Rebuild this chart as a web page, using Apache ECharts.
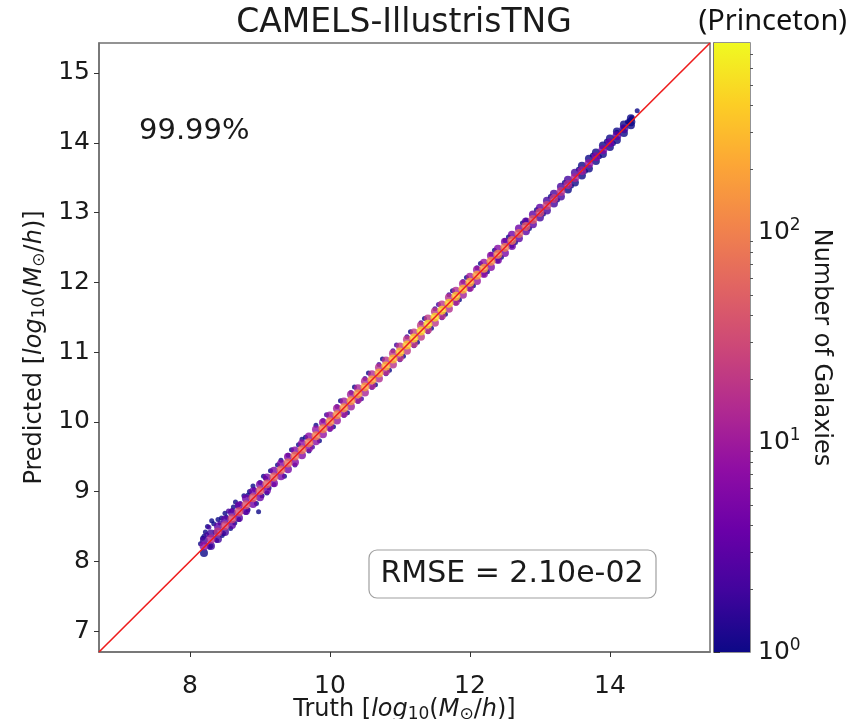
<!DOCTYPE html>
<html><head><meta charset="utf-8">
<script src="https://cdn.jsdelivr.net/npm/echarts@6/dist/echarts.min.js"></script>
<style>html,body{margin:0;padding:0;background:#fff}#c{width:850px;height:719px}</style>
</head><body><div id="c"></div>
<script>
// ---- axis / tick data ----
const axisRange = [6.7, 15.43];
const xTicks = [8, 10, 12, 14];
const yTicks = [7, 8, 9, 10, 11, 12, 13, 14, 15];
const cbarMaxLog = 2.9;            // colorbar top ~ 10^2.9
const cbarMajor = [0, 1, 2];       // 10^0, 10^1, 10^2
const cbarMinorMult = [2, 3, 4, 5, 6, 7, 8, 9];

// ---- data: core of the band (truth, predicted, count) ----
const truthGrid = [8.2,8.3,8.4,8.5,8.6,8.7,8.8,8.9,9.0,9.1,9.2,9.3,9.4,9.5,9.6,9.7,9.8,9.9,10.0,10.1,10.2,10.3,10.4,10.5,10.6,10.7,10.8,10.9,11.0,11.1,11.2,11.3,11.4,11.5,11.6,11.7,11.8,11.9,12.0,12.1,12.2,12.3,12.4,12.5,12.6,12.7,12.8,12.9,13.0,13.1,13.2,13.3,13.4,13.5,13.6,13.7,13.8,13.9,14.0,14.1,14.2,14.3];
const corePred = [8.22,8.32,8.42,8.51,8.61,8.71,8.81,8.91,9.01,9.11,9.21,9.31,9.41,9.51,9.6,9.7,9.8,9.9,10.0,10.1,10.2,10.3,10.4,10.5,10.6,10.7,10.8,10.9,11.0,11.1,11.2,11.3,11.4,11.5,11.6,11.7,11.8,11.9,12.0,12.1,12.2,12.3,12.4,12.5,12.6,12.7,12.8,12.9,13.0,13.1,13.2,13.3,13.4,13.5,13.6,13.7,13.8,13.9,14.0,14.1,14.2,14.3];
const coreCount = [8,14,20,26,30,34,38,42,46,50,55,60,66,72,80,88,95,105,115,125,140,150,165,180,200,220,250,280,320,360,400,440,470,450,420,380,330,280,230,190,160,130,110,90,75,60,48,40,33,27,22,18,15,12,10,8,6,5,4,3,2,1];

// ---- band edges just above / below the line ----
const midUpperPred = [8.3,8.4,8.5,8.6,8.7,8.8,8.9,9.0,9.1,9.2,9.3,9.4,9.5,9.59,9.69,9.79,9.89,9.99,10.09,10.19,10.29,10.39,10.48,10.58,10.68,10.78,10.88,10.98,11.08,11.18,11.28,11.38,11.48,11.58,11.68,11.78,11.88,11.98,12.08,12.18,12.28,12.38,12.48,12.58,12.68,12.77,12.87,12.97,13.07,13.17,13.27,13.37,13.47,13.57,13.67,13.77,13.86,13.96,14.06,14.16,14.26,14.35];
const midUpperCount = [2,2,3,3,3,4,4,4,5,5,5,6,6,6,7,7,8,8,9,10,10,11,12,13,14,16,17,18,19,20,21,21,20,19,18,16,14,12,11,9,8,7,6,5,4,4,3,3,3,2,2,2,2,2,1,1,1,1,1,1,1,1];
const midLowerPred = [8.12,8.22,8.32,8.42,8.52,8.62,8.72,8.82,8.92,9.02,9.12,9.22,9.32,9.42,9.52,9.62,9.72,9.82,9.92,10.02,10.12,10.22,10.32,10.42,10.52,10.62,10.72,10.82,10.92,11.02,11.12,11.22,11.32,11.42,11.52,11.62,11.72,11.82,11.92,12.02,12.12,12.22,12.32,12.42,12.52,12.63,12.73,12.83,12.93,13.03,13.13,13.23,13.33,13.43,13.53,13.63,13.74,13.84,13.94,14.04,14.14,14.25];
const midLowerCount = [1,2,2,2,3,3,3,4,4,4,5,5,5,6,6,7,7,8,8,9,10,10,11,12,13,14,16,17,18,19,20,20,19,18,17,15,13,11,10,9,7,6,5,5,4,3,3,3,2,2,2,2,1,1,1,1,1,1,1,1,1,1];

// ---- scattered outliers (truth, predicted, count) ----
const outliers = [
 [8.15,8.25,1],[8.18,8.33,1],[8.22,8.42,1],[8.25,8.5,1],[8.27,8.49,2],[8.31,8.58,1],[8.34,8.54,1],[8.3,8.22,1],[8.38,8.3,2],[8.4,8.6,1],
 [8.45,8.62,1],[8.5,8.69,1],[8.48,8.4,1],[8.55,8.72,2],[8.58,8.47,1],[8.62,8.78,1],[8.65,8.85,1],[8.7,8.6,1],[8.77,8.94,1],[8.8,8.7,2],
 [8.85,9.0,1],[8.9,9.08,1],[8.95,8.83,1],[8.98,8.71,1],[9.05,9.22,1],[9.1,8.98,1],[9.15,9.3,1],[9.2,9.1,2],[8.2,8.36,1],[8.36,8.42,1],
 [8.24,8.38,2],[8.43,8.55,2],[8.52,8.63,1],[8.6,8.73,2],[8.68,8.8,1],[8.72,8.83,2],[8.83,8.95,1],[8.92,9.03,2],[9.0,9.13,1],[9.08,9.19,1],
 [8.28,8.2,1],[8.46,8.37,1],[8.64,8.55,1],[8.83,8.74,1],[9.03,8.94,1],[9.13,9.05,1],[9.25,9.38,1],[9.4,9.52,1],[9.55,9.67,1],[9.65,9.78,1],
 [9.3,9.45,1],[9.35,9.22,1],[9.45,9.6,1],[9.5,9.38,2],[9.6,9.75,1],[9.7,9.58,1],[9.8,9.95,1],[9.85,9.73,1],[9.95,10.1,2],[10.05,9.93,1],
 [10.15,10.3,1],[10.25,10.13,1],[10.35,10.5,1],[10.45,10.33,2],[10.55,10.7,1],[10.65,10.53,1],[10.75,10.9,1],[10.85,10.74,1],[10.95,11.1,2],[11.05,10.94,1],
 [11.15,11.29,1],[11.25,11.14,1],[11.35,11.48,1],[11.45,11.34,1],[11.55,11.68,2],[11.65,11.54,1],[11.75,11.88,1],[11.85,11.75,1],[11.95,12.07,1],[12.05,11.95,1],
 [9.9,10.02,2],[10.1,10.22,2],[10.3,10.42,2],[10.5,10.62,2],[10.7,10.82,2],[10.9,11.02,2],[11.1,11.22,2],[11.3,11.42,2],[11.5,11.62,2],[11.7,11.82,2],
 [9.75,9.64,2],[10.0,9.89,2],[10.2,10.09,2],[10.4,10.29,2],[10.6,10.49,2],[10.8,10.69,2],[11.0,10.89,2],[11.2,11.09,2],[11.4,11.29,2],[11.6,11.49,2],
 [11.9,12.01,2],[12.1,12.21,2],[12.3,12.4,2],[12.5,12.6,1],[11.8,11.7,2],[12.0,11.9,2],[12.2,12.11,2],[12.4,12.31,1],[12.6,12.52,1],[12.8,12.89,1],
 [12.15,12.27,1],[12.25,12.15,1],[12.35,12.46,1],[12.45,12.36,1],[12.55,12.65,1],[12.65,12.57,1],[12.75,12.85,1],[12.85,12.77,1],[12.95,13.04,1],[13.05,12.98,1],
 [13.15,13.23,1],[13.25,13.18,1],[13.35,13.43,1],[13.45,13.38,1],[13.55,13.62,1],[13.65,13.59,1],[13.75,13.82,1],[13.85,13.8,1],[13.95,14.02,1],[14.05,13.99,1],
 [14.1,14.15,1],[14.19,14.22,1],[14.25,14.3,1],[14.31,14.36,1],[14.39,14.46,1]
];

// ---- texts ----
const titleText = 'CAMELS-IllustrisTNG';
const cornerText = '(Princeton)';
const accText = '99.99%';
const rmseText = 'RMSE = 2.10e-02';
const plasma = ['#0d0887','#41049d','#6a00a8','#8f0da4','#b12a90','#cc4778','#e16462','#f2844b','#fca636','#fcce25','#f0f921'];

const FONT = 'DejaVu Sans';
const AXC = '#707070';
const TXT = '#1a1a1a';

function rows(t, p, c) { return t.map((v, i) => [v, p[i], c[i], Math.log10(c[i])]); }
const coreData = rows(truthGrid, corePred, coreCount);
const upData = rows(truthGrid, midUpperPred, midUpperCount);
const loData = rows(truthGrid, midLowerPred, midLowerCount);
const outData = outliers.map(r => [r[0], r[1], r[2], Math.log10(r[2])]);
const cbarMinor = [];
cbarMajor.forEach(e => cbarMinorMult.forEach(m => { const v = e + Math.log10(m); if (v <= cbarMaxLog) cbarMinor.push(v); }));

const nameRich = {
  i: { fontStyle: 'italic', fontSize: 24, lineHeight: 26, fontFamily: FONT, color: TXT },
  s: { fontSize: 17, lineHeight: 15, verticalAlign: 'bottom', fontFamily: FONT, color: TXT }
};
const nameStr = (w) => w + ' [{i|log}{s|10}({i|M}{s|\u2299}/{i|h})]';

const chart = echarts.init(document.getElementById('c'), null, { renderer: 'canvas' });
chart.setOption({
  animation: false,
  backgroundColor: '#fff',
  grid: [
    { left: 99, right: 140, top: 43, bottom: 67, containLabel: false, outerBoundsMode: 'none', show: true, borderColor: AXC, borderWidth: 1.5, backgroundColor: 'transparent' },
    { left: 714, width: 36, top: 43, bottom: 67, containLabel: false, outerBoundsMode: 'none', show: true, borderColor: AXC, borderWidth: 1.5, backgroundColor: 'transparent' }
  ],
  xAxis: [
    { type: 'value', gridIndex: 0, min: axisRange[0], max: axisRange[1],
      axisLine: { show: true, onZero: false, lineStyle: { color: AXC, width: 1.5 } },
      axisTick: { show: true, customValues: xTicks, length: 5, lineStyle: { color: '#333' } },
      axisLabel: { customValues: xTicks, fontSize: 25, fontFamily: FONT, color: TXT, margin: 22 },
      splitLine: { show: false },
      name: nameStr('Truth'), nameLocation: 'middle', nameGap: 45, nameMoveOverlap: false,
      nameTextStyle: { fontSize: 24, fontFamily: FONT, color: TXT, lineHeight: 26, rich: nameRich } },
    { type: 'value', gridIndex: 1, min: 0, max: 1, show: false }
  ],
  yAxis: [
    { type: 'value', gridIndex: 0, min: axisRange[0], max: axisRange[1],
      axisLine: { show: true, onZero: false, lineStyle: { color: AXC, width: 1.5 } },
      axisTick: { show: true, customValues: yTicks, length: 5, lineStyle: { color: '#333' } },
      axisLabel: { customValues: yTicks, fontSize: 25, fontFamily: FONT, color: TXT, margin: 9 },
      splitLine: { show: false },
      name: nameStr('Predicted'), nameLocation: 'middle', nameGap: 51, nameRotate: 90, nameMoveOverlap: false,
      nameTextStyle: { fontSize: 24, fontFamily: FONT, color: TXT, lineHeight: 26, rich: nameRich } },
    { type: 'value', gridIndex: 1, min: 0, max: cbarMaxLog, position: 'right',
      axisLine: { show: true, lineStyle: { color: AXC, width: 1.5 } },
      axisTick: { show: true, customValues: cbarMajor, length: 6, lineStyle: { color: '#333' } },
      axisLabel: { customValues: cbarMajor, formatter: v => '10{s|' + Math.round(v) + '}',
        fontSize: 25, fontFamily: FONT, color: TXT, margin: 8, lineHeight: 30,
        rich: { s: { fontSize: 17, lineHeight: 15, verticalAlign: 'top', fontFamily: FONT, color: TXT } } },
      splitLine: { show: false },
      name: 'Number of Galaxies', nameLocation: 'middle', nameRotate: -90, nameGap: 59, nameMoveOverlap: false,
      nameTextStyle: { fontSize: 24, fontFamily: FONT, color: TXT } },
    { type: 'value', gridIndex: 1, min: 0, max: cbarMaxLog, position: 'right',
      axisLine: { show: false },
      axisTick: { show: true, customValues: cbarMinor, length: 3, lineStyle: { color: '#555' } },
      axisLabel: { show: false }, splitLine: { show: false } }
  ],
  visualMap: {
    type: 'continuous', show: false, dimension: 3, min: 0, max: cbarMaxLog,
    seriesIndex: [0, 1, 2, 3], inRange: { color: plasma }
  },
  series: [
    { type: 'scatter', xAxisIndex: 0, yAxisIndex: 0, data: outData, symbolSize: 5, z: 2 },
    { type: 'scatter', xAxisIndex: 0, yAxisIndex: 0, data: loData, symbolSize: 8, z: 3 },
    { type: 'scatter', xAxisIndex: 0, yAxisIndex: 0, data: upData, symbolSize: 8, z: 3 },
    { type: 'scatter', xAxisIndex: 0, yAxisIndex: 0, data: coreData, symbolSize: 9, z: 4 },
    { type: 'line', xAxisIndex: 0, yAxisIndex: 0, data: [[axisRange[0], axisRange[0]], [axisRange[1], axisRange[1]]],
      symbol: 'none', lineStyle: { color: '#ee1c1c', width: 1.6 }, z: 6, silent: true },
    { type: 'custom', xAxisIndex: 1, yAxisIndex: 1, data: [[0, 0, 1, cbarMaxLog]], silent: true, z: 1,
      renderItem: (params, api) => {
        const p0 = api.coord([api.value(0), api.value(3)]);
        const p1 = api.coord([api.value(2), api.value(1)]);
        return { type: 'rect', shape: { x: p0[0], y: p0[1], width: p1[0] - p0[0], height: p1[1] - p0[1] },
          style: { fill: new echarts.graphic.LinearGradient(0, 1, 0, 0,
            plasma.map((c, i) => ({ offset: i / (plasma.length - 1), color: c }))) } };
      } }
  ],
  graphic: [
    { type: 'text', x: 404, y: 23, style: { text: titleText, fontSize: 33, fontFamily: FONT, fill: TXT, align: 'center', verticalAlign: 'middle' } },
    { type: 'text', x: 847, y: 22, style: { text: cornerText, fontSize: 29, fontFamily: 'Noto Sans', fill: '#111', align: 'right', verticalAlign: 'middle' } },
    { type: 'text', x: 139, y: 131, style: { text: accText, fontSize: 29, fontFamily: FONT, fill: TXT, align: 'left', verticalAlign: 'middle' } },
    { type: 'rect', shape: { x: 369, y: 550, width: 287, height: 48, r: 8 }, style: { fill: '#fff', stroke: '#a0a0a0', lineWidth: 1.2 }, z: 10 },
    { type: 'text', x: 512, y: 574, style: { text: rmseText, fontSize: 30, fontFamily: FONT, fill: TXT, align: 'center', verticalAlign: 'middle' }, z: 11 }
  ]
});
</script></body></html>
